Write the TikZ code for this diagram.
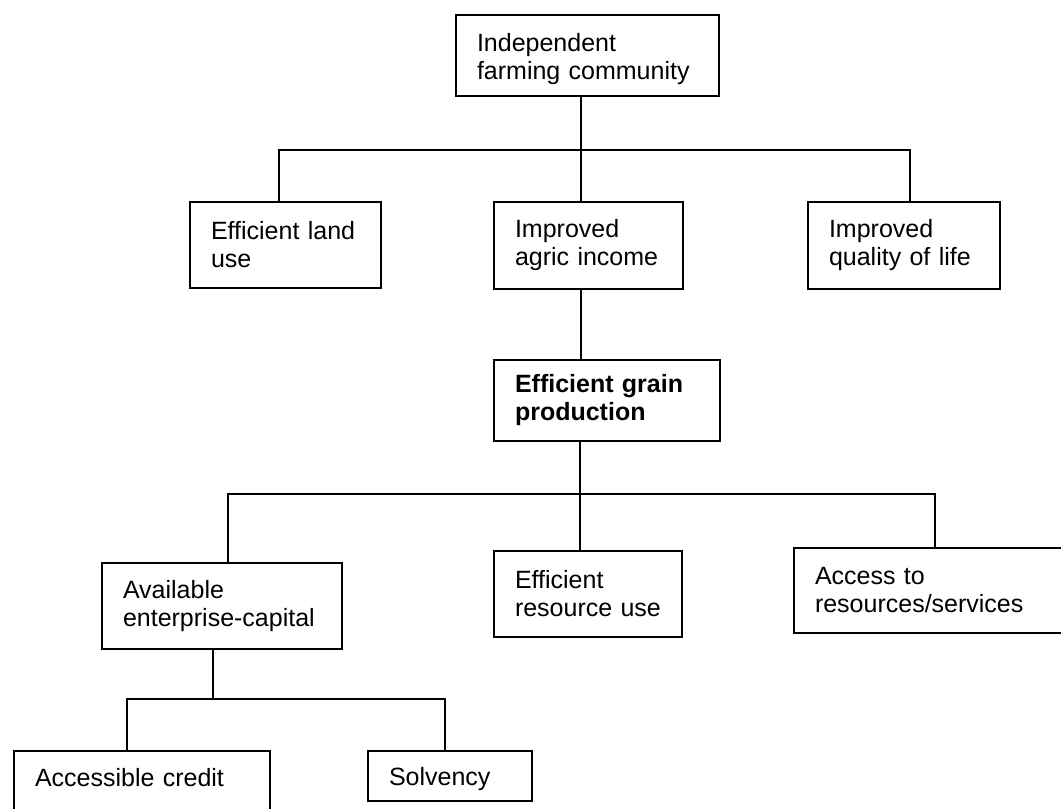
\documentclass[tikz,border=0pt]{standalone}
\usepackage{fontspec}
\setmainfont{Liberation Sans}
\usetikzlibrary{positioning}

\begin{document}
\begin{tikzpicture}[x=0.5pt,y=-0.5pt,line width=1pt,
  font=\fontsize{12.5}{14}\selectfont,
  box/.style={draw, line width=1pt, anchor=north west, align=left, inner xsep=10.5pt, inner ysep=0pt}
]

\useasboundingbox[fill=white] (0,0) rectangle (1061,809);

% top
\node[box, text width=110.5pt, text height=18pt, text depth=22.5pt] (farming) at (455,14) {Independent\\farming community};

% second row
\node[box, text width=74.5pt, minimum height=43pt] (land) at (189,201) {Efficient land\\use};
\node[box, text width=73.5pt, minimum height=43.5pt] (agric) at (493,201) {Improved\\agric income};
\node[box, text width=75pt, minimum height=43.5pt] (quality) at (807,201) {Improved\\quality of life};

% grain
\node[box, text width=92pt, minimum height=40.5pt, below=34.5pt of agric.south west, anchor=north west,
  font=\fontsize{12.5}{14}\selectfont\bfseries] (grain) {Efficient grain\\production};

% third row
\node[box, text width=99pt, minimum height=43pt] (capital) at (101,562) {Available\\enterprise-capital};
\node[box, text width=73pt, minimum height=43pt, below=54pt of grain.south west, anchor=north west] (resource) {Efficient\\resource use};
\node[box, text width=124pt, minimum height=42.5pt] (access) at (793,547) {Access to\\resources/services};

% bottom row
\node[box, text width=107pt, text height=17.5pt, text depth=25pt] (credit) at (13,750) {Accessible credit};
\node[box, text width=61pt, text height=17pt, text depth=8pt, right=48pt of credit.north east, anchor=north west] (solvency) {Solvency};

\coordinate (bus-top) at (581,150);
\coordinate (bus-mid) at (580,494);
\coordinate (bus-low) at (213,699);

% farming to second row
\draw (farming.south -| bus-top) -- (agric.north -| bus-top);
\draw ([xshift=-3.25pt]land.north) |- (bus-top) -| ([xshift=3pt]quality.north);

% agric to grain
\draw (agric.south -| bus-top) -- (grain.north -| bus-top);

% grain to third row
\draw (grain.south -| bus-mid) -- (resource.north -| bus-mid);
\draw ([xshift=3pt]capital.north) |- (bus-mid) -| ([xshift=-2pt]access.north);

% capital to bottom row
\draw (capital.south -| bus-low) -- (bus-low);
\draw ([xshift=-7.5pt]credit.north) |- (bus-low) -| ([xshift=-2.5pt]solvency.north);

\end{tikzpicture}
\end{document}
